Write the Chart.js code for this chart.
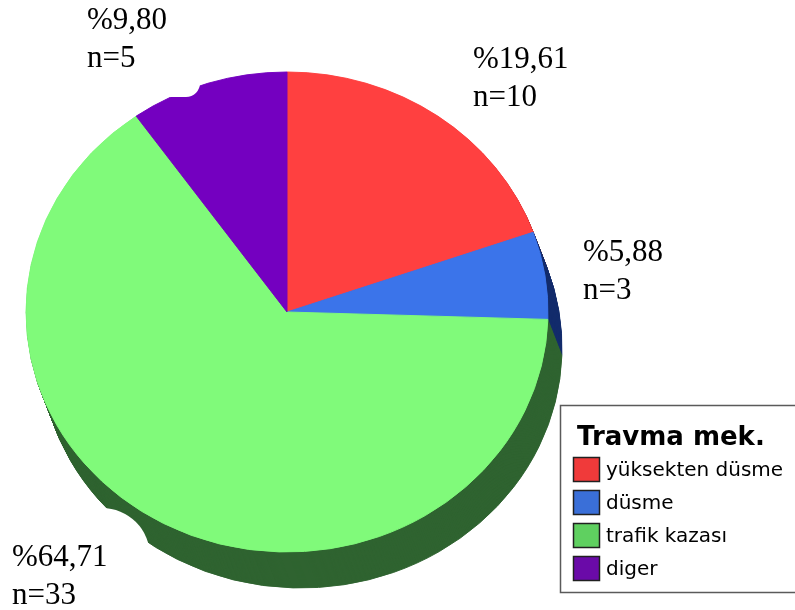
<!DOCTYPE html>
<html>
<head>
<meta charset="utf-8">
<script src="https://cdn.jsdelivr.net/npm/chart.js@4/dist/chart.umd.min.js"></script>
<style>
  html, body { margin: 0; padding: 0; background: #ffffff; }
  #wrap { width: 795px; height: 610px; position: relative; }
</style>
</head>
<body>
<div id="wrap"><canvas id="pie" width="795" height="610"></canvas></div>
<script>
// Trauma mechanism counts
const categories = ['yüksekten düsme', 'düsme', 'trafik kazası', 'diger'];
const counts = [10, 3, 33, 5];
const legendTitle = 'Travma mek.';

// Slice colours (top face, side wall, legend swatch)
const topColors = ['#ff4040', '#3b74ea', '#80fa7a', '#7400c0'];
const sideColors = ['#8a1e1e', '#132c6c', '#2f6330', '#3a0060'];
const swatchColors = ['#f03a3a', '#3a6fd8', '#5fd060', '#6a0aa8'];

const total = counts.reduce((a, b) => a + b, 0);
const percentText = counts.map(v => '%' + (v / total * 100).toFixed(2).replace('.', ','));
const nText = counts.map(v => 'n=' + v);

// Where each slice's caption sits (left x, first baseline)
const captionPos = [[473, 68], [583, 261], [12, 566], [87, 29]];

const TILT = 240 / 261;     // vertical squash of the pie
const DEPTH = { dx: 14, dy: 36, steps: 36 };

function squash(ctx, meta) {
  const arc = meta.data[0];
  ctx.translate(arc.x, arc.y);
  ctx.scale(1, TILT);
  ctx.translate(-arc.x, -arc.y);
}

const pie3d = {
  id: 'pie3d',
  beforeDatasetsDraw(chart) {
    const ctx = chart.ctx;
    const meta = chart.getDatasetMeta(0);
    // side wall: stacked copies of each slice in the darker colour
    for (let k = DEPTH.steps; k >= 1; k--) {
      ctx.save();
      ctx.translate(DEPTH.dx * k / DEPTH.steps, DEPTH.dy * k / DEPTH.steps);
      squash(ctx, meta);
      meta.data.forEach((arc, i) => {
        const shade = Object.create(arc);
        shade.options = Object.assign({}, arc.options, {
          backgroundColor: sideColors[i], borderColor: sideColors[i]
        });
        shade.draw(ctx);
      });
      ctx.restore();
    }
    ctx.save();
    squash(ctx, meta);
  },
  afterDatasetsDraw(chart) {
    chart.ctx.restore();
  },
  afterDraw(chart) {
    const ctx = chart.ctx;
    ctx.save();
    // white caption panels
    ctx.fillStyle = '#ffffff';
    ctx.beginPath();
    ctx.roundRect(70, 0, 130, 97, [0, 0, 14, 0]);
    ctx.fill();
    ctx.beginPath();
    ctx.roundRect(0, 508, 150, 102, [0, 48, 0, 0]);
    ctx.fill();

    // slice captions
    ctx.fillStyle = '#000000';
    ctx.font = '31px "Liberation Serif", "Times New Roman", serif';
    ctx.textBaseline = 'alphabetic';
    ctx.textAlign = 'left';
    counts.forEach((v, i) => {
      const [x, y] = captionPos[i];
      ctx.fillText(percentText[i], x, y);
      ctx.fillText(nText[i], x, y + 38);
    });

    // legend box
    ctx.fillStyle = '#ffffff';
    ctx.fillRect(560, 405, 240, 187);
    ctx.strokeStyle = '#5a5a5a';
    ctx.lineWidth = 1.5;
    ctx.strokeRect(560.5, 405.5, 240, 187);

    ctx.fillStyle = '#000000';
    ctx.font = 'bold 26px "DejaVu Sans", sans-serif';
    ctx.fillText(legendTitle, 577, 445);

    ctx.font = '20px "DejaVu Sans", sans-serif';
    ctx.textBaseline = 'middle';
    categories.forEach((name, i) => {
      const yc = 469.5 + i * 33;
      ctx.fillStyle = swatchColors[i];
      ctx.fillRect(573, yc - 12.5, 27, 25);
      ctx.strokeStyle = '#202020';
      ctx.lineWidth = 1.5;
      ctx.strokeRect(573.5, yc - 12, 26, 24);
      ctx.fillStyle = '#000000';
      ctx.fillText(name, 606, yc + 1);
    });
    ctx.restore();
  }
};

new Chart(document.getElementById('pie'), {
  type: 'pie',
  data: {
    labels: categories,
    datasets: [{
      data: counts,
      backgroundColor: topColors,
      borderColor: topColors,
      borderWidth: 1,
      hoverOffset: 0
    }]
  },
  options: {
    responsive: false,
    animation: false,
    events: [],
    radius: 261,
    rotation: 0,
    layout: { padding: { left: 22, right: 243, top: 47, bottom: 33 } },
    plugins: {
      legend: { display: false },
      tooltip: { enabled: false },
      title: { display: false }
    }
  },
  plugins: [pie3d]
});
</script>
</body>
</html>
